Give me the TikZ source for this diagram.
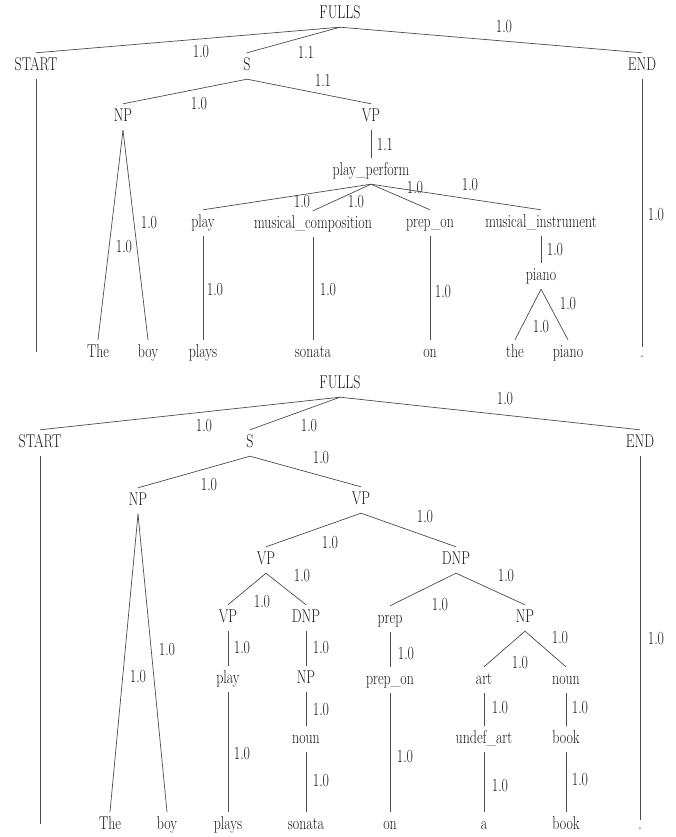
\documentclass[tikz,border=0pt]{standalone}
\usepackage{graphicx}
\newcommand\sq[1]{\scalebox{0.75}[1]{#1}}
\begin{document}
\begin{tikzpicture}[x=1pt,y=-1pt,
  nd/.style={inner xsep=1pt, inner ysep=4.5pt, text height=13pt, text depth=4pt,
             font=\fontsize{18.5}{20}\selectfont, text=black!90},
  lbl/.style={inner sep=0pt, font=\fontsize{18.5}{20}\selectfont, text=black!90},
  edge/.style={draw=black!70, line width=0.7pt}]
\useasboundingbox (0,0) rectangle (676,837);

% ---------------- top tree ----------------
\node[nd] (aFULLS) at (340,14) {\sq{FULLS}};
\node[nd] (aSTART) at (36,66) {\sq{START}};
\node[nd] (aS) at (247,66) {\sq{S}};
\node[nd] (aEND) at (642,66) {\sq{END}};
\node[nd] (aNP) at (123,117) {\sq{NP}};
\node[nd] (aVP) at (371,117) {\sq{VP}};
\node[nd] (aPP) at (371,171) {\sq{play\_perform}};
\node[nd] (aplay) at (203,223) {\sq{play}};
\node[nd] (amc) at (313,224) {\sq{musical\_composition}};
\node[nd] (aprep) at (430,223) {\sq{prep\_on}};
\node[nd] (ami) at (541,223) {\sq{musical\_instrument}};
\node[nd] (apiano) at (541,276) {\sq{piano}};
\node[nd] (aThe) at (98,353) {\sq{The}};
\node[nd] (aboy) at (148,353) {\sq{boy}};
\node[nd] (aplays) at (203,353) {\sq{plays}};
\node[nd] (asonata) at (313,353) {\sq{sonata}};
\node[nd] (aon) at (430,353) {\sq{on}};
\node[nd] (athe) at (515,353) {\sq{the}};
\node[nd] (apiano2) at (568,353) {\sq{piano}};
\node[nd] (adot) at (642,353) {\sq{.}};
\coordinate (aSTARTend) at (36,352);

\draw[edge] (aFULLS.south) -- (aSTART.north);
\draw[edge] (aFULLS.south) -- (aS.north);
\draw[edge] (aFULLS.south) -- (aEND.north);
\draw[edge] (aSTART.south) -- (aSTARTend);
\draw[edge, shorten >=-7pt] (aEND.south) -- (adot.north);
\draw[edge] (aS.south) -- (aNP.north);
\draw[edge] (aS.south) -- (aVP.north);
\draw[edge] (aNP.south) -- (aThe.north);
\draw[edge] (aNP.south) -- (aboy.north);
\draw[edge] (aVP.south) -- (aPP.north);
\draw[edge] (aPP.south) -- (aplay.north);
\draw[edge] (aPP.south) -- (amc.north);
\draw[edge] (aPP.south) -- (aprep.north);
\draw[edge] (aPP.south) -- (ami.north);
\draw[edge] (aplay.south) -- (aplays.north);
\draw[edge] (amc.south) -- (asonata.north);
\draw[edge] (aprep.south) -- (aon.north);
\draw[edge] (ami.south) -- (apiano.north);
\draw[edge] (apiano.south) -- (athe.north);
\draw[edge] (apiano.south) -- (apiano2.north);

\node[lbl] (la1) at (201,52) {\sq{1.0}};
\node[lbl] (la2) at (306,52) {\sq{1.1}};
\node[lbl] (la3) at (504,27) {\sq{1.0}};
\node[lbl] (la4) at (199,104) {\sq{1.0}};
\node[lbl] (la5) at (323,80) {\sq{1.1}};
\node[lbl] (la6) at (149,223) {\sq{1.0}};
\node[lbl] (la7) at (124,247) {\sq{1.0}};
\node[lbl] (la8) at (385,144) {\sq{1.1}};
\node[lbl] (la9) at (415,188) {\sq{1.0}};
\node[lbl] (la10) at (470,185) {\sq{1.0}};
\node[lbl] (la11) at (302,202) {\sq{1.0}};
\node[lbl] (la12) at (356,202) {\sq{1.0}};
\node[lbl] (la13) at (215,290) {\sq{1.0}};
\node[lbl] (la14) at (328,290) {\sq{1.0}};
\node[lbl] (la15) at (443,292) {\sq{1.0}};
\node[lbl] (la16) at (555,250) {\sq{1.0}};
\node[lbl] (la17) at (568,304) {\sq{1.0}};
\node[lbl] (la18) at (541,327) {\sq{1.0}};
\node[lbl] (la19) at (656,215) {\sq{1.0}};

% ---------------- bottom tree ----------------
\node[nd] (bFULLS) at (340,384) {\sq{FULLS}};
\node[nd] (bSTART) at (40,443) {\sq{START}};
\node[nd] (bS) at (250,443) {\sq{S}};
\node[nd] (bEND) at (640,443) {\sq{END}};
\node[nd] (bNP) at (138,501) {\sq{NP}};
\node[nd] (bVP) at (361,500) {\sq{VP}};
\node[nd] (bVPa) at (266,560) {\sq{VP}};
\node[nd] (bDNPa) at (456,560) {\sq{DNP}};
\node[nd] (bVPb) at (228,618) {\sq{VP}};
\node[nd] (bDNPb) at (306,618) {\sq{DNP}};
\node[nd] (bprep) at (390,619) {\sq{prep}};
\node[nd] (bNPc) at (525,618) {\sq{NP}};
\node[nd] (bplay) at (228,679) {\sq{play}};
\node[nd] (bNPd) at (306,679) {\sq{NP}};
\node[nd] (bprepon) at (390,680) {\sq{prep\_on}};
\node[nd] (bart) at (484,680) {\sq{art}};
\node[nd] (bnoun) at (566,680) {\sq{noun}};
\node[nd] (bnoun2) at (306,739) {\sq{noun}};
\node[nd] (bundef) at (484,739) {\sq{undef\_art}};
\node[nd] (bbook) at (566,739) {\sq{book}};
\node[nd] (bThe) at (110,825) {\sq{The}};
\node[nd] (bboy) at (167,825) {\sq{boy}};
\node[nd] (bplays) at (228,825) {\sq{plays}};
\node[nd] (bsonata) at (306,825) {\sq{sonata}};
\node[nd] (bon) at (390,825) {\sq{on}};
\node[nd] (ba) at (484,825) {\sq{a}};
\node[nd] (bbook2) at (566,825) {\sq{book}};
\node[nd] (bdot) at (640,825) {\sq{.}};
\coordinate (bSTARTend) at (40,824);

\draw[edge] (bFULLS.south) -- (bSTART.north);
\draw[edge] (bFULLS.south) -- (bS.north);
\draw[edge] (bFULLS.south) -- (bEND.north);
\draw[edge] (bSTART.south) -- (bSTARTend);
\draw[edge, shorten >=-8pt] (bEND.south) -- (bdot.north);
\draw[edge] (bS.south) -- (bNP.north);
\draw[edge] (bS.south) -- (bVP.north);
\draw[edge] (bNP.south) -- (bThe.north);
\draw[edge] (bNP.south) -- (bboy.north);
\draw[edge] (bVP.south) -- (bVPa.north);
\draw[edge] (bVP.south) -- (bDNPa.north);
\draw[edge] (bVPa.south) -- (bVPb.north);
\draw[edge] (bVPa.south) -- (bDNPb.north);
\draw[edge] (bDNPa.south) -- (bprep.north);
\draw[edge] (bDNPa.south) -- (bNPc.north);
\draw[edge] (bVPb.south) -- (bplay.north);
\draw[edge] (bplay.south) -- (bplays.north);
\draw[edge] (bDNPb.south) -- (bNPd.north);
\draw[edge] (bNPd.south) -- (bnoun2.north);
\draw[edge] (bnoun2.south) -- (bsonata.north);
\draw[edge] (bprep.south) -- (bprepon.north);
\draw[edge] (bprepon.south) -- (bon.north);
\draw[edge] (bNPc.south) -- (bart.north);
\draw[edge] (bNPc.south) -- (bnoun.north);
\draw[edge] (bart.south) -- (bundef.north);
\draw[edge] (bundef.south) -- (ba.north);
\draw[edge] (bnoun.south) -- (bbook.north);
\draw[edge] (bbook.south) -- (bbook2.north);

\node[lbl] (lb1) at (204,426) {\sq{1.0}};
\node[lbl] (lb2) at (309,426) {\sq{1.0}};
\node[lbl] (lb3) at (505,399) {\sq{1.0}};
\node[lbl] (lb4) at (209,485) {\sq{1.0}};
\node[lbl] (lb5) at (321,458) {\sq{1.0}};
\node[lbl] (lb6) at (167,650) {\sq{1.0}};
\node[lbl] (lb7) at (138,677) {\sq{1.0}};
\node[lbl] (lb8) at (425,517) {\sq{1.0}};
\node[lbl] (lb9) at (330,543) {\sq{1.0}};
\node[lbl] (lb10) at (302,576) {\sq{1.0}};
\node[lbl] (lb11) at (262,602) {\sq{1.0}};
\node[lbl] (lb12) at (506,576) {\sq{1.0}};
\node[lbl] (lb13) at (440,605) {\sq{1.0}};
\node[lbl] (lb14) at (242,648) {\sq{1.0}};
\node[lbl] (lb15) at (321,648) {\sq{1.0}};
\node[lbl] (lb16) at (406,654) {\sq{1.0}};
\node[lbl] (lb17) at (242,754) {\sq{1.0}};
\node[lbl] (lb18) at (321,710) {\sq{1.0}};
\node[lbl] (lb19) at (321,781) {\sq{1.0}};
\node[lbl] (lb20) at (405,757) {\sq{1.0}};
\node[lbl] (lb21) at (560,638) {\sq{1.0}};
\node[lbl] (lb22) at (520,663) {\sq{1.0}};
\node[lbl] (lb23) at (500,708) {\sq{1.0}};
\node[lbl] (lb24) at (580,708) {\sq{1.0}};
\node[lbl] (lb25) at (500,786) {\sq{1.0}};
\node[lbl] (lb26) at (580,780) {\sq{1.0}};
\node[lbl] (lb27) at (656,639) {\sq{1.0}};
\end{tikzpicture}
\end{document}
